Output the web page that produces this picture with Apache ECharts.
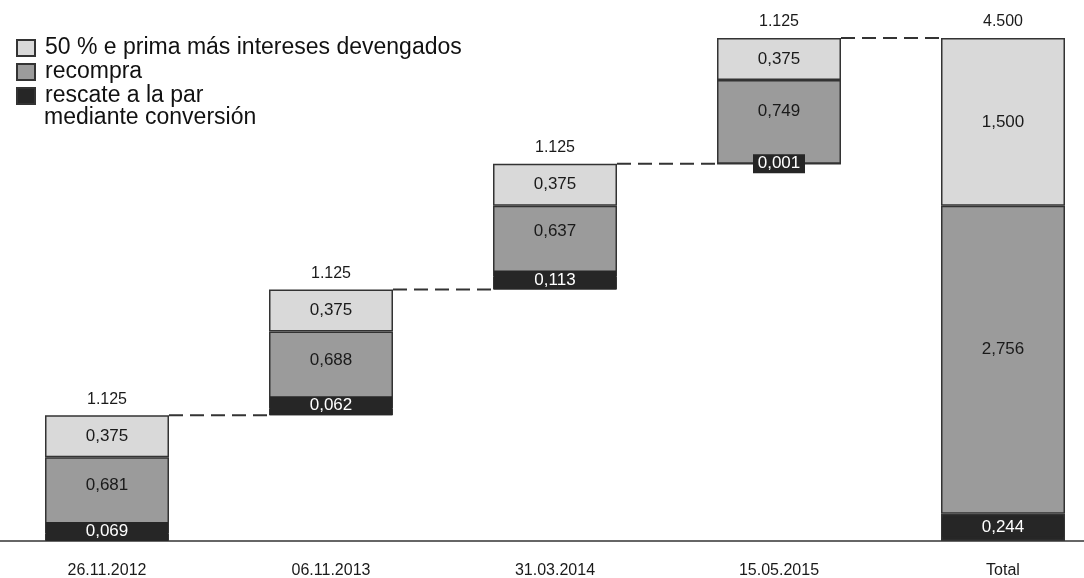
<!DOCTYPE html>
<html>
<head>
<meta charset="utf-8">
<script src="https://cdn.jsdelivr.net/npm/echarts@6/dist/echarts.min.js"></script>
<style>
  html, body { margin: 0; padding: 0; background: #fff; }
  #chart { width: 1084px; height: 578px; }
</style>
</head>
<body>
<div id="chart"></div>
<script>
// data
const categories = ['26.11.2012', '06.11.2013', '31.03.2014', '15.05.2015', 'Total'];
const baseValues = [0, 1.125, 2.25, 3.375, 0];
const rescateValues = [0.069, 0.062, 0.113, 0.001, 0.244];
const recompraValues = [0.681, 0.688, 0.637, 0.749, 2.756];
const primaValues = [0.375, 0.375, 0.375, 0.375, 1.5];
const topLabels = ['1.125', '1.125', '1.125', '1.125', '4.500'];

const nameA = '50 % e prima más intereses devengados';
const nameB = 'recompra';
const nameC = 'rescate a la par';

document.addEventListener('DOMContentLoaded', function() {
    const chart = echarts.init(document.getElementById('chart'));
    const barWidth = 124;
    const font = 'Liberation Sans, Arial, sans-serif';
    const border = { borderColor: '#333333', borderWidth: 1.5 };
    const fmt = function(v) { return v.toFixed(3).replace('.', ','); };

    // connector levels = top of each step
    const connectors = [];
    for (let i = 0; i < categories.length - 1; i++) {
        connectors.push([i, baseValues[i] + rescateValues[i] + recompraValues[i] + primaValues[i]]);
    }

    // black labels drawn as boxes so the small values stay readable
    const rescateData = rescateValues.map(function(v, i) {
        const small = v < 0.01;
        return {
            value: v,
            label: {
                position: (small || i === 4) ? 'inside' : 'insideBottom',
                distance: 0,
                width: small ? 52 : barWidth - 2,
                height: 19,
                lineHeight: 19
            }
        };
    });

    const option = {
        animation: false,
        textStyle: { fontFamily: font },
        legend: {
            orient: 'vertical',
            left: 11,
            top: 31,
            icon: 'rect',
            itemWidth: 18,
            itemHeight: 16,
            itemGap: 0,
            selectedMode: false,
            textStyle: { fontSize: 23, color: '#111111', lineHeight: 24, padding: [0, 0, 0, 5] },
            data: [nameA, nameB, nameC]
        },
        graphic: [{
            type: 'text',
            left: 44,
            top: 106,
            style: { text: 'mediante conversión', fill: '#111111', font: '23px ' + font }
        }],
        grid: { left: -5, width: 1120, top: 38, bottom: 37, outerBoundsMode: 'none', containLabel: false },
        xAxis: {
            type: 'category',
            data: categories,
            axisLine: { lineStyle: { color: '#333333', width: 1.5 } },
            axisTick: { show: false },
            axisLabel: { color: '#1a1a1a', fontSize: 16, margin: 22 }
        },
        yAxis: { type: 'value', min: 0, max: 4.5, show: false },
        series: [
            {
                name: 'base',
                type: 'bar',
                stack: 'w',
                barWidth: barWidth,
                itemStyle: { color: 'transparent' },
                silent: true,
                data: baseValues
            },
            {
                name: nameC,
                type: 'bar',
                stack: 'w',
                barWidth: barWidth,
                itemStyle: Object.assign({ color: '#262626' }, border),
                label: {
                    show: true,
                    color: '#ffffff',
                    fontSize: 17,
                    backgroundColor: '#262626',
                    align: 'center',
                    formatter: function(p) { return fmt(p.value); }
                },
                data: rescateData
            },
            {
                name: nameB,
                type: 'bar',
                stack: 'w',
                barWidth: barWidth,
                itemStyle: Object.assign({ color: '#9b9b9b' }, border),
                label: {
                    show: true,
                    position: 'inside',
                    offset: [0, -10],
                    color: '#1a1a1a',
                    fontSize: 17,
                    formatter: function(p) { return fmt(p.value); }
                },
                data: recompraValues
            },
            {
                name: nameA,
                type: 'bar',
                stack: 'w',
                barWidth: barWidth,
                itemStyle: Object.assign({ color: '#d9d9d9' }, border),
                label: {
                    show: true,
                    position: 'inside',
                    color: '#1a1a1a',
                    fontSize: 17,
                    formatter: function(p) { return fmt(p.value); }
                },
                data: primaValues
            },
            {
                // totals above each bar
                name: 'tops',
                type: 'bar',
                stack: 'w',
                barWidth: barWidth,
                itemStyle: { color: 'transparent' },
                silent: true,
                label: {
                    show: true,
                    position: 'insideBottom',
                    distance: 8,
                    color: '#1a1a1a',
                    fontSize: 16,
                    formatter: function(p) { return topLabels[p.dataIndex]; }
                },
                data: categories.map(function() { return 0; })
            },
            {
                name: 'conectores',
                type: 'custom',
                silent: true,
                renderItem: function(params, api) {
                    const idx = api.value(0);
                    const level = api.value(1);
                    const p0 = api.coord([idx, level]);
                    const p1 = api.coord([idx + 1, level]);
                    return {
                        type: 'line',
                        shape: { x1: p0[0] + barWidth / 2, y1: p0[1], x2: p1[0] - barWidth / 2, y2: p1[1] },
                        style: { stroke: '#333333', lineWidth: 2, lineDash: [14, 7] }
                    };
                },
                data: connectors
            }
        ]
    };
    chart.setOption(option);
});
</script>
</body>
</html>
